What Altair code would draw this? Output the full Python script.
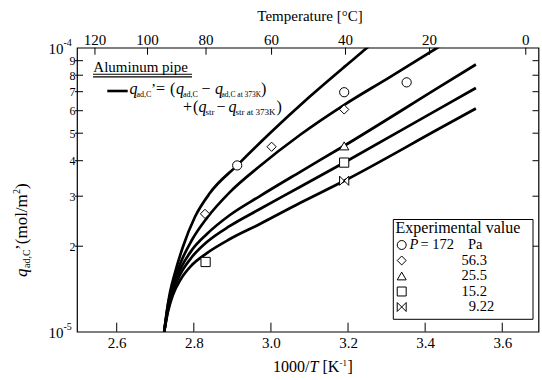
import altair as alt
import pandas as pd

# ---------------- data ----------------
x_ticks = [2.6, 2.8, 3.0, 3.2, 3.4, 3.6]
temp_ticks = [120, 100, 80, 60, 40, 20, 0]
y_minor = [2e-5, 3e-5, 4e-5, 5e-5, 6e-5, 7e-5, 8e-5, 9e-5]
y_decades = [1e-5, 1e-4]
decade_exp = ["-5", "-4"]

series = ["172", "56.3", "25.5", "15.2", "9.22"]

c1_x = [2.7232, 2.7302, 2.7379, 2.7509, 2.7716, 2.8028, 2.8417, 2.9125, 2.9973, 3.1010, 3.1919, 3.2463, 3.2614]
c1_y = [1.00e-5, 1.183e-5, 1.368e-5, 1.609e-5, 1.987e-5, 2.534e-5, 3.077e-5, 3.853e-5, 4.995e-5, 6.732e-5, 8.594e-5, 9.911e-5, 1.032e-4]
c2_x = [2.7232, 2.7328, 2.7457, 2.7665, 2.7950, 2.8339, 2.8936, 2.9714, 3.0751, 3.1892, 3.3085, 3.4304, 3.4512]
c2_y = [1.00e-5, 1.242e-5, 1.460e-5, 1.759e-5, 2.103e-5, 2.514e-5, 3.102e-5, 3.832e-5, 4.928e-5, 6.282e-5, 7.88e-5, 9.976e-5, 1.039e-4]
c3_x = [2.7232, 2.7328, 2.7457, 2.7665, 2.7950, 2.8339, 2.8936, 2.9714, 3.0751, 3.1892, 3.4382, 3.5316]
c3_y = [1.00e-5, 1.212e-5, 1.425e-5, 1.676e-5, 1.939e-5, 2.208e-5, 2.576e-5, 3.003e-5, 3.649e-5, 4.507e-5, 7.290e-5, 8.727e-5]
c4_x = [2.7232, 2.7328, 2.7457, 2.7665, 2.7950, 2.8339, 2.8936, 2.9714, 3.0751, 3.1892, 3.4382, 3.5316]
c4_y = [1.00e-5, 1.192e-5, 1.390e-5, 1.609e-5, 1.832e-5, 2.069e-5, 2.357e-5, 2.704e-5, 3.231e-5, 3.936e-5, 6.116e-5, 7.213e-5]
c5_x = [2.7232, 2.7328, 2.7457, 2.7665, 2.7950, 2.8339, 2.8936, 2.9714, 3.0751, 3.1892, 3.4382, 3.5316]
c5_y = [1.00e-5, 1.173e-5, 1.346e-5, 1.533e-5, 1.717e-5, 1.892e-5, 2.120e-5, 2.395e-5, 2.838e-5, 3.392e-5, 5.202e-5, 6.106e-5]

m_series = ["172", "172", "172", "56.3", "56.3", "56.3", "25.5", "15.2", "15.2", "9.22"]
m_x = [2.9125, 3.19, 3.352, 2.829, 3.0017, 3.19, 3.19, 3.19, 2.8305, 3.19]
m_y = [3.85e-5, 6.97e-5, 7.55e-5, 2.60e-5, 4.48e-5, 6.06e-5, 4.51e-5, 3.94e-5, 1.76e-5, 3.40e-5]

# ---------------- tables ----------------
rows = []
for s, xs_, ys_ in zip(series, [c1_x, c2_x, c3_x, c4_x, c5_x], [c1_y, c2_y, c3_y, c4_y, c5_y]):
    for i, (a, b) in enumerate(zip(xs_, ys_)):
        rows.append({"series": s, "idx": i, "x": a, "y": b})
curve_df = pd.DataFrame(rows)
marker_df = pd.DataFrame({"series": m_series, "x": m_x, "y": m_y})
xt_df = pd.DataFrame({"v": x_ticks})
temp_df = pd.DataFrame({"t": temp_ticks, "v": [1000.0 / (t + 273.15) for t in temp_ticks],
                        "lab": [str(t) for t in temp_ticks]})
ym_df = pd.DataFrame({"v": y_minor})
yd_df = pd.DataFrame({"v": y_decades, "e": decade_exp})
one = pd.DataFrame({"k": [0]})

# ---------------- layout ----------------
W, H = 461.5, 284
FONT = "Liberation Serif"
xs = alt.Scale(domain=[2.497, 3.694], nice=False, zero=False)
ys = alt.Scale(type="log", domain=[1e-5, 1e-4], nice=False)
xaxis = alt.Axis(values=x_ticks, format=".1f", title=None, grid=False, domain=False,
                 ticks=False, tickSize=0, labelPadding=4, labelFontSize=15, labelFont=FONT,
                 labelColor="black", labelFlush=False)
yaxis = alt.Axis(values=y_minor, labelExpr="round(datum.value*100000)", title=None, grid=False,
                 domain=False, ticks=False, tickSize=0, labelPadding=2, labelFontSize=12,
                 labelFont=FONT, labelColor="black")


def X(f="x"):
    return alt.X(f"{f}:Q", scale=xs, axis=xaxis)


def Y(f="y"):
    return alt.Y(f"{f}:Q", scale=ys, axis=yaxis)


def txt(s, x, y, size, italic=False, align="left", baseline="alphabetic", angle=None):
    m = dict(text=s, font=FONT, fontSize=size, color="black", fill="black", align=align,
             baseline=baseline)
    if italic:
        m["fontStyle"] = "italic"
    if angle is not None:
        m["angle"] = angle
    return alt.Chart(one).mark_text(**m).encode(x=alt.value(x), y=alt.value(y))


def rule(x1, x2, y1, y2, w=1.0):
    return alt.Chart(one).mark_rule(color="black", strokeWidth=w).encode(
        x=alt.value(x1), x2=alt.value(x2), y=alt.value(y1), y2=alt.value(y2))


shape_range = ["circle", "diamond", "triangle-up", "square", "M-1,-1L1,1L1,-1L-1,1Z"]

curves = alt.Chart(curve_df).mark_line(color="black", strokeWidth=2.7, interpolate="monotone",
                                       clip=True).encode(x=X(), y=Y(), detail="series:N",
                                                         order="idx:Q")
points = alt.Chart(marker_df).mark_point(filled=True, fill="white", stroke="black", strokeWidth=1,
                                         size=85, opacity=1).encode(
    x=X(), y=Y(),
    shape=alt.Shape("series:N", scale=alt.Scale(domain=series, range=shape_range), legend=None))

bottom_ticks = alt.Chart(xt_df).mark_rule(color="black").encode(
    x=X("v"), y=alt.value(H), y2=alt.value(H - 9))
top_ticks = alt.Chart(temp_df).mark_rule(color="black").encode(
    x=X("v"), y=alt.value(0), y2=alt.value(7))
top_labels = alt.Chart(temp_df).mark_text(font=FONT, fontSize=15, color="black",
                                          baseline="alphabetic").encode(
    x=X("v"), y=alt.value(-3), text="lab:N")
left_ticks = alt.Chart(ym_df).mark_rule(color="black").encode(
    y=Y("v"), x=alt.value(-2), x2=alt.value(6))
right_ticks = alt.Chart(ym_df).mark_rule(color="black").encode(
    y=Y("v"), x=alt.value(W - 6), x2=alt.value(W))
dec_main = alt.Chart(yd_df).mark_text(font=FONT, fontSize=15, color="black", align="right",
                                      baseline="middle", dy=1.5, text="10").encode(
    y=Y("v"), x=alt.value(-13.5))
dec_sup = alt.Chart(yd_df).mark_text(font=FONT, fontSize=10, color="black", align="left",
                                     baseline="middle", dy=-5).encode(
    y=Y("v"), x=alt.value(-13.5), text="e:N")

layers = [curves, points, bottom_ticks, top_ticks, top_labels, left_ticks, right_ticks, dec_main, dec_sup]

# titles
layers += [txt("Temperature  [°C]", 233, -26.7, 15, align="center")]
layers += [txt("1000/", 196, 324.3, 16), txt("T", 232.4, 324.3, 16, italic=True),
           txt("[K", 245.5, 324.3, 16), txt("-1", 262.5, 318, 9), txt("]", 270.5, 324.3, 16)]
# y title (rotated)
layers += [txt("q", -50, 229.3, 17, italic=True, angle=270),
           txt("ad,C", -47, 220.3, 10, angle=270),
           txt("’(mol/m", -50, 202.2, 17, angle=270),
           txt("2", -57, 146.2, 10, angle=270),
           txt(")", -50, 141.2, 17, angle=270)]

# annotation upper-left
layers += [txt("Aluminum pipe", 16.3, 24, 15),
           rule(16, 115, 26.6, 26.6, 1.1), rule(16, 115, 29.2, 29.2, 1.1),
           rule(30.3, 50.7, 43.3, 43.3, 2.6)]
b1, s1 = 45.8, 49.3
b2, s2 = 63.8, 67.3
layers += [txt("q", 52.5, b1, 16, italic=True), txt("ad,C", 59.5, s1, 8),
           txt("’", 74, b1, 15), txt("=", 79, b1, 16), txt("(", 93, b1, 16),
           txt("q", 99, b1, 16, italic=True), txt("ad,C", 106, s1, 8),
           txt("−", 124.5, b1, 16), txt("q", 138, b1, 16, italic=True),
           txt("ad,C at 373K", 144.5, s1, 7.5), txt(")", 184, b1, 16)]
layers += [txt("+", 106, b2, 16), txt("(", 116, b2, 16), txt("q", 121.5, b2, 16, italic=True),
           txt("str", 128.5, s2, 9), txt("−", 139.5, b2, 16), txt("q", 151.5, b2, 16, italic=True),
           txt("str at 373K", 158.5, s2, 9), txt(")", 199.5, b2, 16)]

# legend box
lx0, ly0 = 316.3, 171.8
layers += [alt.Chart(one).mark_rect(fill="white", stroke="black", strokeWidth=1).encode(
    x=alt.value(lx0), x2=alt.value(456), y=alt.value(ly0), y2=alt.value(271.6))]
layers += [txt("Experimental value", 318.5, 180.3, 16, baseline="middle")]
for i, s in enumerate(series):
    yy = 197.3 + 15.5 * i
    layers.append(alt.Chart(one).mark_point(shape=shape_range[i], size=80, filled=True, fill="white",
                                            stroke="black", strokeWidth=1, opacity=1).encode(
        x=alt.value(324.7), y=alt.value(yy)))
    if i == 0:
        layers += [txt("P", 332.5, yy, 14.5, italic=True, baseline="middle"),
                   txt("= " + s, 343.5, yy, 14.5, baseline="middle"),
                   txt("Pa", 391, yy, 14.5, baseline="middle")]
    else:
        ip, fp = s.split(".")
        layers += [txt(ip, 399, yy, 14.5, align="right", baseline="middle"),
                   txt("." + fp, 399, yy, 14.5, baseline="middle")]

chart = alt.layer(*layers).properties(
    width=W, height=H, autosize="none",
    padding={"left": 77, "top": 47.7, "right": 3.5, "bottom": 48.3}
).configure_view(stroke="black", strokeWidth=1.2).configure_axis(labelFont=FONT)

chart.save("out.html", embed_options={"renderer": "svg", "actions": False})
